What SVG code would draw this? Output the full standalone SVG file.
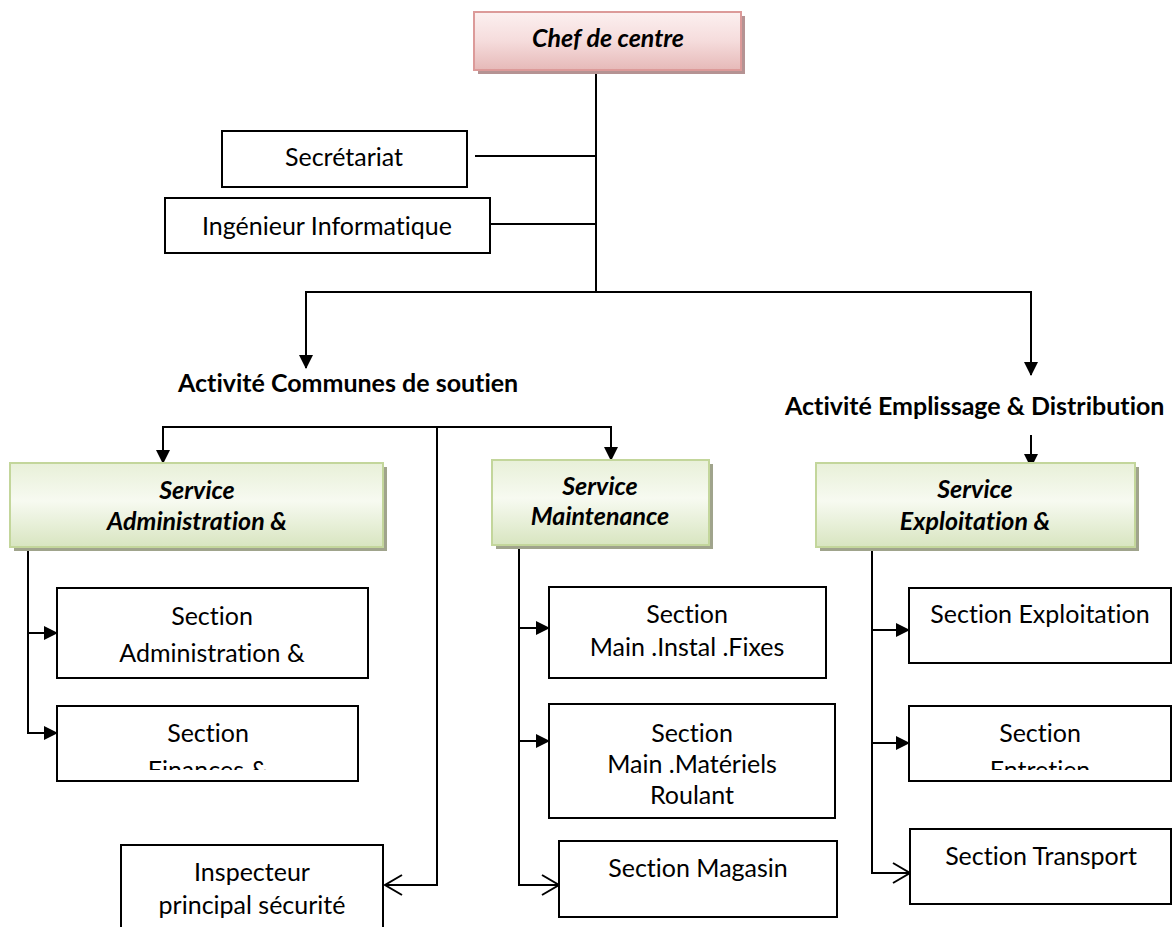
<svg xmlns="http://www.w3.org/2000/svg" width="1173" height="927" viewBox="0 0 1173 927">
<style>
  text { font-family: Lato, "Liberation Sans", sans-serif; font-size: 25px; fill: #000; font-variant-ligatures: none; font-feature-settings: "liga" 0, "clig" 0; }
  .c { text-anchor: middle; }
  .bi { font-weight: bold; font-style: italic; }
  .b { font-weight: bold; }
  .box { fill: #fff; stroke: #000; stroke-width: 2; }
  .ln { fill: none; stroke: #000; stroke-width: 2; }
  .arr { marker-end: url(#fa); }
  .oarr { marker-end: url(#oa); }
</style>
<defs>
  <linearGradient id="gPink" x1="0" y1="0" x2="0" y2="1">
    <stop offset="0" stop-color="#fcf0f0"/>
    <stop offset="0.5" stop-color="#f5dcdc"/>
    <stop offset="1" stop-color="#e6b9b8"/>
  </linearGradient>
  <linearGradient id="gGreen" x1="0" y1="0" x2="0" y2="1">
    <stop offset="0" stop-color="#e8f0d8"/>
    <stop offset="0.45" stop-color="#f7faf1"/>
    <stop offset="1" stop-color="#d8e5c0"/>
  </linearGradient>
  <marker id="fa" viewBox="0 0 14 14" refX="13" refY="7" markerWidth="14" markerHeight="14" markerUnits="userSpaceOnUse" orient="auto">
    <path d="M0,0 L14,7 L0,14 z" fill="#000"/>
  </marker>
  <marker id="oa" viewBox="0 0 20 22" refX="18" refY="11" markerWidth="20" markerHeight="22" markerUnits="userSpaceOnUse" orient="auto">
    <path d="M1,1 L18,11 L1,21" fill="none" stroke="#000" stroke-width="2"/>
  </marker>
  <clipPath id="clipFin"><rect x="57" y="706" width="302" height="64"/></clipPath>
  <clipPath id="clipEnt"><rect x="909" y="706" width="262" height="64"/></clipPath>
</defs>

<g id="connectors">
  <line class="ln" x1="596" y1="71" x2="596" y2="292"/>
  <line class="ln" x1="475" y1="156" x2="596" y2="156"/>
  <line class="ln" x1="490" y1="224" x2="596" y2="224"/>
  <line class="ln" x1="305" y1="292" x2="1032" y2="292"/>
  <line class="ln arr" x1="306" y1="291" x2="306" y2="368"/>
  <line class="ln arr" x1="1031" y1="291" x2="1031" y2="375"/>
  <line class="ln arr" x1="1031" y1="435" x2="1031" y2="467"/>
  <polyline class="ln" points="163,462 163,427 611,427 611,460"/>
  <line class="ln arr" x1="163" y1="440" x2="163" y2="463"/>
  <line class="ln arr" x1="611" y1="440" x2="611" y2="460"/>
  <polyline class="ln oarr" points="437,427 437,885 385,885"/>
  <polyline class="ln" points="28,547 28,733"/>
  <line class="ln arr" x1="27" y1="633" x2="57" y2="633"/>
  <line class="ln arr" x1="27" y1="733" x2="57" y2="733"/>
  <polyline class="ln" points="519,545 519,885"/>
  <line class="ln arr" x1="518" y1="628" x2="549" y2="628"/>
  <line class="ln arr" x1="518" y1="741" x2="549" y2="741"/>
  <line class="ln oarr" x1="518" y1="885" x2="559" y2="885"/>
  <polyline class="ln" points="872,547 872,873"/>
  <line class="ln arr" x1="871" y1="630" x2="909" y2="630"/>
  <line class="ln arr" x1="871" y1="743" x2="909" y2="743"/>
  <line class="ln oarr" x1="871" y1="873" x2="910" y2="873"/>
</g>

<g id="chef">
  <rect x="478" y="16" width="267" height="58" fill="#b59393"/>
  <rect x="474" y="12" width="267" height="58" fill="url(#gPink)" stroke="#dc9a99" stroke-width="2"/>
  <text class="c bi" x="608" y="47">Chef de centre</text>
</g>

<g id="secretariat">
  <rect class="box" x="222" y="131" width="245" height="56"/>
  <text class="c" x="344" y="166">Secrétariat</text>
</g>

<g id="ingenieur">
  <rect class="box" x="165" y="198" width="325" height="55"/>
  <text class="c" x="327" y="235">Ingénieur Informatique</text>
</g>

<g id="activite-communes">
  <text class="b" x="178" y="392">Activité Communes de soutien</text>
</g>

<g id="activite-emplissage">
  <text class="b" x="785" y="415">Activité Emplissage &amp; Distribution</text>
</g>

<g id="service-admin">
  <rect x="14" y="467" width="373" height="84" fill="#a0a48c"/>
  <rect x="10" y="463" width="373" height="84" fill="url(#gGreen)" stroke="#c3d69b" stroke-width="2"/>
  <text class="c bi" x="197" y="499">Service</text>
  <text class="c bi" x="197" y="530">Administration &amp;</text>
</g>

<g id="service-maintenance">
  <rect x="496" y="464" width="217" height="85" fill="#a0a48c"/>
  <rect x="492" y="460" width="217" height="85" fill="url(#gGreen)" stroke="#c3d69b" stroke-width="2"/>
  <text class="c bi" x="600" y="495">Service</text>
  <text class="c bi" x="600" y="525">Maintenance</text>
</g>

<g id="service-exploitation">
  <rect x="820" y="467" width="319" height="84" fill="#a0a48c"/>
  <rect x="816" y="463" width="319" height="84" fill="url(#gGreen)" stroke="#c3d69b" stroke-width="2"/>
  <text class="c bi" x="975" y="498">Service</text>
  <text class="c bi" x="975" y="530">Exploitation &amp;</text>
</g>

<g id="section-admin">
  <rect class="box" x="57" y="588" width="311" height="90"/>
  <text class="c" x="212" y="625">Section</text>
  <text class="c" x="212" y="662">Administration &amp;</text>
</g>

<g id="section-finances">
  <rect class="box" x="57" y="706" width="301" height="75"/>
  <text class="c" x="208" y="742">Section</text>
  <text class="c" x="208" y="779" clip-path="url(#clipFin)">Finances &amp;</text>
</g>

<g id="inspecteur">
  <rect class="box" x="121" y="845" width="262" height="100"/>
  <text class="c" x="252" y="881">Inspecteur</text>
  <text class="c" x="252" y="914">principal sécurité</text>
</g>

<g id="section-instal">
  <rect class="box" x="549" y="587" width="277" height="91"/>
  <text class="c" x="687" y="623">Section</text>
  <text class="c" x="687" y="656">Main .Instal .Fixes</text>
</g>

<g id="section-materiels">
  <rect class="box" x="549" y="704" width="286" height="114"/>
  <text class="c" x="692" y="742">Section</text>
  <text class="c" x="692" y="773">Main .Matériels</text>
  <text class="c" x="692" y="804">Roulant</text>
</g>

<g id="section-magasin">
  <rect class="box" x="559" y="841" width="278" height="76"/>
  <text class="c" x="698" y="877">Section Magasin</text>
</g>

<g id="section-exploitation">
  <rect class="box" x="909" y="588" width="262" height="75"/>
  <text class="c" x="1040" y="623">Section Exploitation</text>
</g>

<g id="section-entretien">
  <rect class="box" x="909" y="706" width="262" height="75"/>
  <text class="c" x="1040" y="742">Section</text>
  <text class="c" x="1040" y="779" clip-path="url(#clipEnt)">Entretien</text>
</g>

<g id="section-transport">
  <rect class="box" x="910" y="829" width="261" height="75"/>
  <text class="c" x="1041" y="865">Section Transport</text>
</g>
</svg>
